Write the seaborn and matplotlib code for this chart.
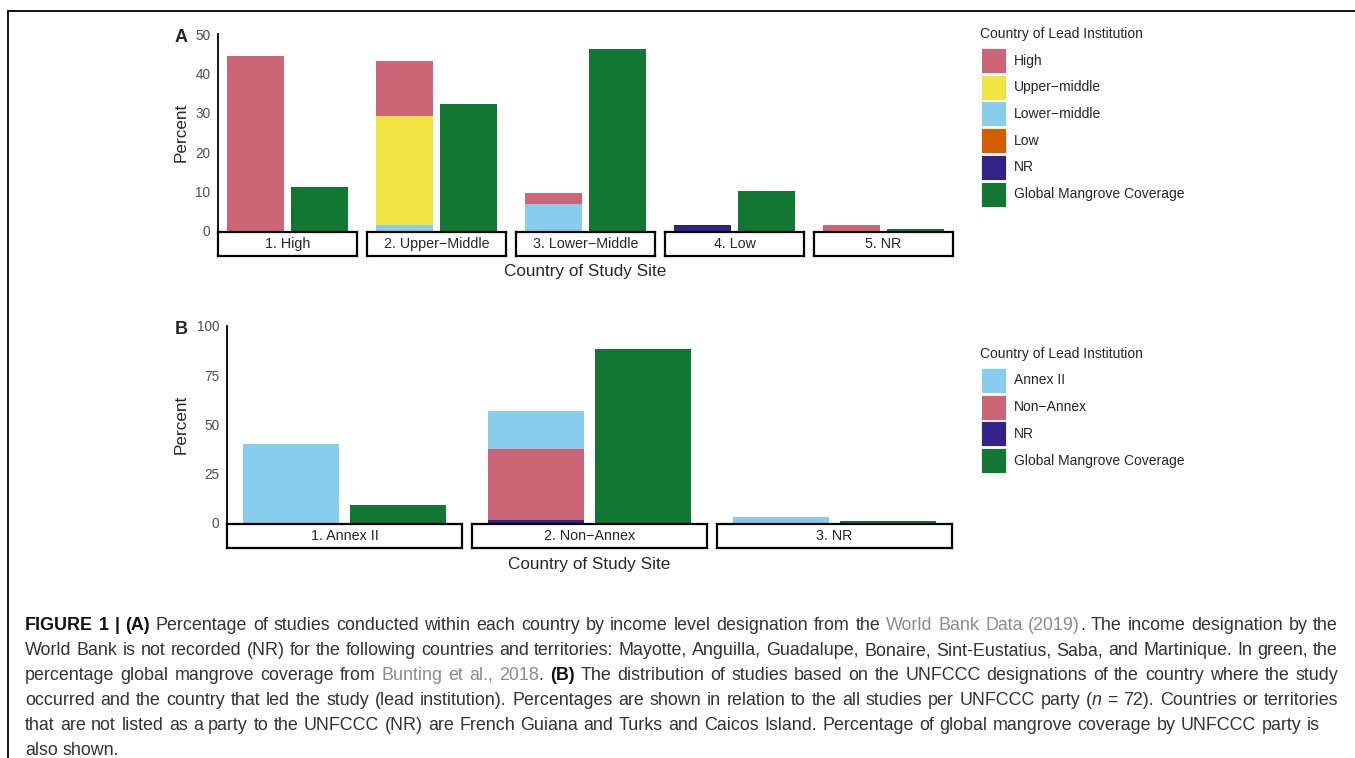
import matplotlib
matplotlib.use("Agg")
import matplotlib.pyplot as plt
from matplotlib.patches import Rectangle
from matplotlib.lines import Line2D
import seaborn as sns
import pandas as pd

W, H = 1355, 758

# (A) country of study site by World Bank income level, % of studies
a_sites = ["1. High", "2. Upper\u2212Middle", "3. Lower\u2212Middle", "4. Low", "5. NR"]
a_levels = ["High", "Upper\u2212middle", "Lower\u2212middle", "Low", "NR"]
a_high = [44.4, 13.9, 2.8, 0.0, 1.4]
a_upper_middle = [0.0, 27.8, 0.0, 0.0, 0.0]
a_lower_middle = [0.0, 1.4, 6.9, 0.0, 0.0]
a_low = [0.0, 0.0, 0.0, 0.0, 0.0]
a_nr = [0.0, 0.0, 0.0, 1.4, 0.0]
a_mangrove = [11.1, 32.2, 46.3, 10.2, 0.5]
a_yticks = [0, 10, 20, 30, 40, 50]

# (B) country of study site by UNFCCC party, % of studies
b_sites = ["1. Annex II", "2. Non\u2212Annex", "3. NR"]
b_levels = ["Annex II", "Non\u2212Annex", "NR"]
b_annex2 = [40.3, 19.4, 2.8]
b_non_annex = [0.0, 36.1, 0.0]
b_nr = [0.0, 1.4, 0.0]
b_mangrove = [9.1, 88.3, 0.8]
b_yticks = [0, 25, 50, 75, 100]

MANGROVE = "Global Mangrove Coverage"
a_colors = {"High": "#CC6677", "Upper\u2212middle": "#F0E442", "Lower\u2212middle": "#88CCEE",
            "Low": "#D55E00", "NR": "#332288", MANGROVE: "#117733"}
b_colors = {"Annex II": "#88CCEE", "Non\u2212Annex": "#CC6677", "NR": "#332288",
            MANGROVE: "#117733"}

caption = [
    "*FIGURE 1 | (A)* Percentage  of studies conducted within each country by income level "
    "designation from the ~World Bank Data (2019)~. The income designation by the",
    "World Bank is not recorded (NR) for the following countries and territories: Mayotte, "
    "Anguilla, Guadalupe, Bonaire, Sint-Eustatius, Saba, and Martinique. In green, the",
    "percentage global mangrove coverage from ~Bunting et al., 2018~. *(B)* The distribution "
    "of studies based on the UNFCCC designations of the country where the study",
    "occurred and the country that led the study (lead institution). Percentages are shown in "
    "relation to the all studies per UNFCCC party (_n_ = 72). Countries or territories",
    "that are not listed as a party to the UNFCCC (NR) are French Guiana and Turks and Caicos "
    "Island. Percentage of global mangrove coverage by UNFCCC party is",
    "also shown.",
]

sns.set_style("white")
plt.rcParams["font.family"] = ["Liberation Sans", "DejaVu Sans"]

fig = plt.figure(figsize=(W / 100, H / 100), dpi=100)


def fx(x):
    return x / W


def fy(y):
    return 1 - y / H


def tidy(sites, levels, layers, mangrove):
    rows = []
    for i, site in enumerate(sites):
        top = 0.0
        # stack bottom-up: last level sits on the axis
        for level, vals in reversed(list(zip(levels, layers))):
            top += vals[i]
            rows.append(dict(site=site, bar="lead", level=level, value=vals[i], top=top))
        rows.append(dict(site=site, bar="mangrove", level=MANGROVE,
                         value=mangrove[i], top=mangrove[i]))
    return pd.DataFrame(rows)


def draw_panel(df, sites, levels, colors, left, right, gap, top, bottom,
               yticks, letter, legend_top):
    n = len(sites)
    fw = (right - left - gap * (n - 1)) / n
    for i, site in enumerate(sites):
        x0 = left + i * (fw + gap)
        ax = fig.add_axes([fx(x0), fy(bottom), fw / W, (bottom - top) / H])
        for level in levels + [MANGROVE]:
            sub = df[(df.site == site) & (df.level == level)]
            sns.barplot(data=sub, x="bar", y="top", order=["lead", "mangrove"],
                        color=colors[level], width=0.9, saturation=1, linewidth=0,
                        errorbar=None, ax=ax)
        ax.set_xlim(-0.6, 1.6)
        ax.set_ylim(0, yticks[-1])
        ax.set_xticks([])
        ax.set_xlabel("")
        ax.set_ylabel("")
        for s in ["top", "right", "bottom"]:
            ax.spines[s].set_visible(False)
        if i == 0:
            ax.spines["left"].set_color("black")
            ax.spines["left"].set_linewidth(1.3)
            ax.set_yticks(yticks)
            ax.tick_params(axis="y", length=0, pad=5.5, labelsize=9.8, labelcolor="#4d4d4d")
        else:
            ax.spines["left"].set_visible(False)
            ax.set_yticks([])

        # strip below each facet
        st = fig.add_axes([fx(x0), fy(bottom + 25), fw / W, 24 / H])
        st.set_xticks([])
        st.set_yticks([])
        for s in st.spines.values():
            s.set_visible(True)
            s.set_color("black")
            s.set_linewidth(1.6)
        st.set_facecolor("white")
        st.text(0.5, 0.5, site, ha="center", va="center", fontsize=10.3,
                transform=st.transAxes)

    fig.text(fx(175), fy(top + 3), letter, fontsize=13, fontweight="bold",
             ha="left", va="center")
    fig.text(fx(181), fy((top + bottom) / 2), "Percent", rotation=90, fontsize=12.3,
             ha="center", va="center")
    fig.text(fx((left + right) / 2), fy(bottom + 41), "Country of Study Site",
             fontsize=12.3, ha="center", va="center")

    # legend
    fig.text(fx(980), fy(legend_top), "Country of Lead Institution", fontsize=10,
             ha="left", va="center")
    for k, level in enumerate(levels + [MANGROVE]):
        ky = legend_top + 14 + k * 26.7
        fig.add_artist(Rectangle((fx(981), fy(ky + 25)), 25 / W, 25 / H,
                                 transform=fig.transFigure, facecolor=colors[level],
                                 edgecolor="white", linewidth=0.6))
        fig.text(fx(1014), fy(ky + 12.5), level, fontsize=10, ha="left", va="center")


df_a = tidy(a_sites, a_levels, [a_high, a_upper_middle, a_lower_middle, a_low, a_nr], a_mangrove)
df_b = tidy(b_sites, b_levels, [b_annex2, b_non_annex, b_nr], b_mangrove)

draw_panel(df_a, a_sites, a_levels, a_colors, 218, 953, 10, 34, 231, a_yticks, "A", 34)
draw_panel(df_b, b_sites, b_levels, b_colors, 227, 952, 10, 326, 523, b_yticks, "B", 354)

# frame lines of the figure box
fig.add_artist(Line2D([fx(8), 1], [fy(10.5), fy(10.5)], transform=fig.transFigure,
                      color="black", linewidth=1.3))
fig.add_artist(Line2D([fx(8), fx(8)], [0, fy(10.5)], transform=fig.transFigure,
                      color="black", linewidth=1.3))


# caption: justified lines, *bold*, ~grey link~, _italic_
def parse(line):
    words, cur, buf, style = [], [], "", set()
    marks = {"*": "b", "~": "g", "_": "i"}
    for ch in line:
        if ch in marks:
            if buf:
                cur.append((buf, frozenset(style)))
                buf = ""
            style ^= {marks[ch]}
        elif ch == " ":
            if buf:
                cur.append((buf, frozenset(style)))
                buf = ""
            if cur:
                words.append(cur)
                cur = []
        else:
            buf += ch
    if buf:
        cur.append((buf, frozenset(style)))
    if cur:
        words.append(cur)
    return words


renderer = fig.canvas.get_renderer()
cap_size = 12.9
right_edges = [1338, 1338, 1338, 1338, 1320, None]
for li, line in enumerate(caption):
    base = 630 + li * 25
    words = parse(line)
    placed = []
    total = 0.0
    for word in words:
        pieces = []
        ww = 0.0
        for txt, st in word:
            kw = dict(fontsize=cap_size, color="#333333")
            if "b" in st:
                kw.update(fontweight="bold", color="#111111")
            if "g" in st:
                kw.update(color="#8c8c8c")
            if "i" in st:
                kw.update(fontstyle="italic")
            t = fig.text(0, fy(base), txt, ha="left", va="baseline", **kw)
            w = t.get_window_extent(renderer).width
            pieces.append((t, w))
            ww += w
        placed.append(pieces)
        total += ww
    space = fig.text(0, 0, "a a", fontsize=cap_size).get_window_extent(renderer).width - \
        fig.text(0, 0, "aa", fontsize=cap_size).get_window_extent(renderer).width
    for t in fig.texts[-2:]:
        t.set_visible(False)
    if right_edges[li] is not None and len(placed) > 1:
        gap = (right_edges[li] - 25 - total) / (len(placed) - 1)
    else:
        gap = space
    x = 25.0
    for pieces in placed:
        for t, w in pieces:
            t.set_x(fx(x))
            x += w
        x += gap

fig.savefig("out.png", dpi=100)
